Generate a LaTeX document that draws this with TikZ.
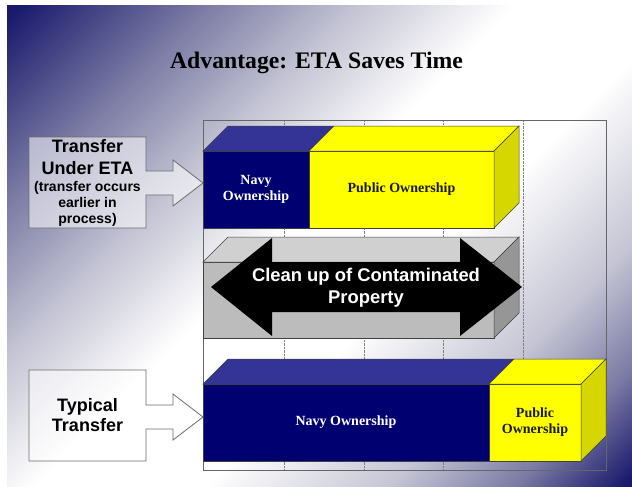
\documentclass[tikz,border=0pt]{standalone}
\usepackage{fontspec}
\setmainfont{Liberation Serif}
\setsansfont{Liberation Sans}
\usetikzlibrary{positioning,backgrounds}

\definecolor{slidenavy}{RGB}{24,24,108}
\definecolor{slidemid}{RGB}{122,122,164}
\definecolor{slidelight}{RGB}{196,196,212}
\definecolor{ownnavy}{RGB}{0,0,112}
\definecolor{ownnavytop}{RGB}{52,52,150}
\definecolor{ownyellow}{RGB}{255,255,0}
\definecolor{ownyellowside}{RGB}{214,214,0}
\definecolor{cleangrey}{RGB}{188,188,188}
\definecolor{cleangreytop}{RGB}{208,208,208}
\definecolor{cleangreyside}{RGB}{150,150,150}

% slide background: dark corners, light band across the middle
\pgfdeclarehorizontalshading{slidebg}{100bp}{%
  color(0bp)=(slidenavy); color(15bp)=(slidenavy); color(27bp)=(slidemid);
  color(37bp)=(slidelight); color(47bp)=(white); color(58bp)=(white);
  color(70bp)=(slidelight); color(78bp)=(slidemid); color(85bp)=(slidenavy);
  color(100bp)=(slidenavy)}

\newcommand{\sidesmall}{\fontsize{14}{16}\selectfont}

\tikzset{
  face/.style       = {draw=black!75, line width=0.5pt, inner sep=0pt, outer sep=0pt,
                       minimum height=77, align=center,
                       font=\bfseries\fontsize{14}{16}\selectfont},
  navyface/.style   = {face, fill=ownnavy, text=white},
  yellowface/.style = {face, fill=ownyellow, text=black!90},
  greyface/.style   = {face, fill=cleangrey},
  skin/.style       = {draw=black!75, line width=0.5pt},
  navytop/.style    = {skin, fill=ownnavytop},
  yellowtop/.style  = {skin, fill=ownyellow},
  yellowside/.style = {skin, fill=ownyellowside},
  greytop/.style    = {skin, fill=cleangreytop},
  greyside/.style   = {skin, fill=cleangreyside},
  sidetext/.style   = {align=center, inner sep=0pt, outer sep=0pt,
                       minimum width=117, minimum height=91,
                       font=\sffamily\bfseries\fontsize{18}{20}\selectfont},
  callout/.style    = {draw=gray!85!black, line width=0.8pt, fill=white, fill opacity=0.55}
}

\begin{document}
\begin{tikzpicture}[x=1pt, y=-1pt]
\useasboundingbox (0,0) rectangle (632,487);

% heading
\node[font=\bfseries\fontsize{23.7}{28}\selectfont] (title) at (316.5,63) {Advantage: ETA Saves Time};

% early transfer bar
\node[navyface, minimum width=106] (navyeta) at (256,189.5) {Navy\\Ownership};
\node[yellowface, minimum width=185, right=0pt of navyeta] (publiceta) {Public Ownership};
\draw[navytop] (navyeta.north west) -- ++(25,-25) -- ++(106,0) -- (navyeta.north east) -- cycle;
\draw[yellowtop] (publiceta.north west) -- ++(25,-25) -- ++(185,0) -- (publiceta.north east) -- cycle;
\draw[yellowside] (publiceta.north east) -- ++(25,-25) -- ++(0,77) -- (publiceta.south east) -- cycle;

% clean up bar with the double arrow
\node[greyface, minimum width=291, minimum height=76] (cleanbar) at (348.5,300) {};
\draw[greytop] (cleanbar.north west) -- ++(25,-25) -- ++(291,0) -- (cleanbar.north east) -- cycle;
\draw[greyside] (cleanbar.north east) -- ++(25,-25) -- ++(0,76) -- (cleanbar.south east) -- cycle;
\fill[black] (211,287) -- (272,238) -- (272,262) -- (460,262) -- (460,238) -- (522,287)
  -- (460,336) -- (460,312) -- (272,312) -- (272,336) -- cycle;
\node[text=white, align=center, font=\sffamily\bfseries\fontsize{18.4}{22}\selectfont]
  (cleantext) at (366,288) {Clean up of Contaminated\\Property};

% typical transfer bar
\node[navyface, minimum width=286] (navytyp) at (346,422.5) {Navy Ownership};
\node[yellowface, minimum width=92, right=0pt of navytyp] (publictyp) {Public\\Ownership};
\draw[navytop] (navytyp.north west) -- ++(25,-25) -- ++(286,0) -- (navytyp.north east) -- cycle;
\draw[yellowtop] (publictyp.north west) -- ++(25,-25) -- ++(92,0) -- (publictyp.north east) -- cycle;
\draw[yellowside] (publictyp.north east) -- ++(25,-25) -- ++(0,77) -- (publictyp.south east) -- cycle;

% labels on the left
\node[sidetext] (etabox) at (87.5,182.5)
  {Transfer\\[2pt]Under ETA\\[-3pt]\sidesmall(transfer occurs\\[-4pt]\sidesmall earlier in\\[-4pt]\sidesmall process)};
\node[sidetext] (typbox) at (87.5,415.5) {Typical\\Transfer};

\begin{scope}[on background layer]
\fill[white] (0,0) rectangle (632,487);
\shade[shading=slidebg, shading angle=-45] (7,6) rectangle (632,487);
% chart frame and grid
\foreach \gx in {284,364,443,523}
  \draw[gray, densely dotted] (\gx,120) -- (\gx,470);
\draw[gray!80!black, line width=0.8pt] (203,120) rectangle (606,470);
% callouts pointing at the bars
\draw[callout] (etabox.north west) -- (etabox.north east) -- ++(0,34) -- ++(27,0) -- ++(0,-11)
  -- ++(30,23) -- ++(-30,23) -- ++(0,-11) -- ++(-27,0) -- (etabox.south east) -- (etabox.south west) -- cycle;
\draw[callout] (typbox.north west) -- (typbox.north east) -- ++(0,35) -- ++(27,0) -- ++(0,-11)
  -- ++(30,23) -- ++(-30,23) -- ++(0,-11) -- ++(-27,0) -- (typbox.south east) -- (typbox.south west) -- cycle;
\end{scope}

\end{tikzpicture}
\end{document}
